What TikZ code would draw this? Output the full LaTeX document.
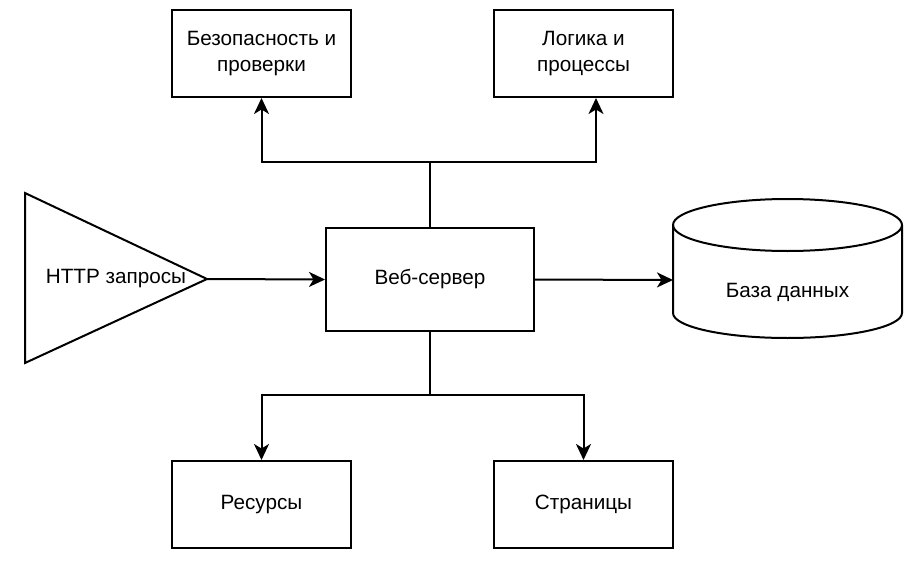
\documentclass[tikz,border=0pt]{standalone}
\usepackage{fontspec}
\setmainfont{Liberation Sans}
\usetikzlibrary{arrows.meta}
\tikzset{
  box/.style={draw, line width=2pt, minimum width=179pt, minimum height=87pt, inner sep=0pt, align=center, font=\fontsize{20.7}{26}\selectfont},
  lbl/.style={inner sep=0pt, align=center, font=\fontsize{20.7}{26}\selectfont},
  arr/.style={line width=2pt, -{Stealth[length=16pt, width=15pt, inset=4.5pt]}},
  ln/.style={line width=2pt}
}
\begin{document}
\begin{tikzpicture}[x=1pt,y=-1pt]
\useasboundingbox[fill=white] (0,0) rectangle (922,565);
% boxes
\node[box] (sec) at (261.5,53.5) {Безопасность и\\проверки};
\node[box] (logic) at (583.5,53.5) {Логика и\\процессы};
\node[box] (res) at (261.5,504.5) {Ресурсы};
\node[box] (pages) at (583.5,504.5) {Страницы};
\node[box, minimum width=208pt, minimum height=103pt] (ws) at (430,279.5) {Веб-сервер};
% triangle
\coordinate (tA) at (25,193);
\coordinate (tB) at (25,363);
\coordinate (tip) at (207,279);
\draw[ln, line join=miter] (tA) -- (tip) -- (tB) -- cycle;
\node[lbl] (http) at (116,279) {HTTP запросы};
% cylinder
\draw[ln, fill=white] (673,225) -- (673,313) arc[start angle=180, end angle=0, x radius=114.5, y radius=25] -- (902,225);
\draw[ln] (787.5,225) ellipse[x radius=114.5, y radius=26];
\coordinate (dbw) at (673,280);
\node[lbl] (db) at (787.5,292) {База данных};
% connectors
\coordinate (jt) at (430,162);
\coordinate (jb) at (430,395);
\draw[ln] (ws.north) -- (jt);
\draw[arr] (jt) -| (sec.south);
\draw[arr] (jt) -| ([xshift=12.5pt]logic.south);
\draw[ln] (ws.south) -- (jb);
\draw[arr] (jb) -| (res.north);
\draw[arr] (jb) -| (pages.north);
\draw[arr] (tip) -- (ws.west);
\draw[arr] (ws.east) -- (dbw);
\end{tikzpicture}
\end{document}
